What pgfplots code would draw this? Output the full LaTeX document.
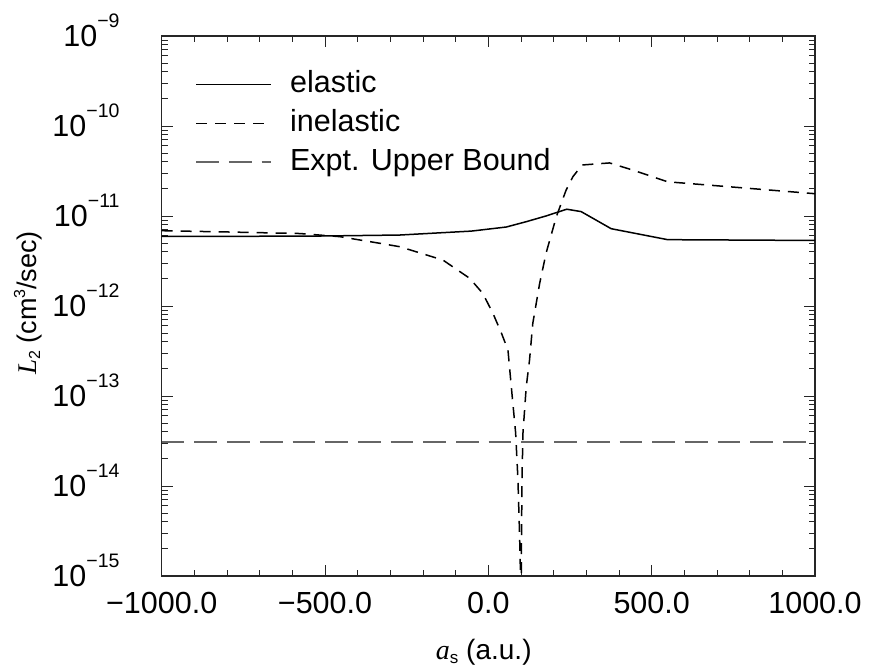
\documentclass[border=0pt]{standalone}
\usepackage{pgfplots}
\pgfplotsset{compat=1.18}
\usepackage{fontspec}
\setmainfont{Liberation Sans}
\newfontfamily\serif{Liberation Serif}
\newcommand{\tl}[1]{10\smash{\raisebox{19pt}{\fontsize{19.5}{20}\selectfont −#1}}}
\begin{document}
\begin{tikzpicture}
\begin{axis}[
  at={(0,0)}, anchor=south west,
  scale only axis, width=653.3pt, height=540pt,
  ymode=log, xmin=-1000, xmax=1000, ymin=1e-15, ymax=1e-9,
  xtick={-1000,-500,0,500,1000},
  xticklabels={−1000.0,−500.0,0.0,500.0,1000.0},
  minor x tick num=4,
  ytick={1e-15,1e-14,1e-13,1e-12,1e-11,1e-10,1e-9},
  yticklabels={\tl{15},\tl{14},\tl{13},\tl{12},\tl{11},\tl{10},\tl{9}},
  tick align=inside,
  major tick length=11pt, minor tick length=6pt,
  every tick/.style={black!85, line width=1pt},
  axis line style={black!85, line width=1.4pt},
  tick label style={font=\fontsize{30.5}{36}\selectfont, inner sep=0pt},
  xticklabel style={yshift=-16pt},
  yticklabel style={xshift=-42pt},
  xlabel={{\serif\itshape a}\raisebox{-4pt}{\fontsize{17}{18}\selectfont s} (a.u.)},
  ylabel={{\serif\itshape L}\raisebox{-4pt}{\fontsize{16}{18}\selectfont 2} (cm\raisebox{11pt}{\fontsize{16}{18}\selectfont 3}/sec)},
  every axis x label/.style={at={(axis description cs:0.493,-0.1537)}, anchor=base, font=\fontsize{28}{32}\selectfont},
  every axis y label/.style={at={(axis description cs:-0.1924,0.5056)}, anchor=base, rotate=90, font=\fontsize{27}{32}\selectfont},
  legend style={draw=none, fill=none, at={(axis description cs:0,1)}, anchor=north west,
    xshift=33.3pt, yshift=-34.2pt, inner sep=0pt, row sep=11pt,
    font=\fontsize{30.5}{36}\selectfont,
    nodes={inner sep=0pt, text height=22pt, text depth=6pt},
    /tikz/every odd column/.append style={column sep=18pt}},
  legend cell align=left,
  legend image code/.code={\draw[#1] (0pt,0pt) -- (75pt,0pt);},
]
\addplot[black, line width=1.5pt] coordinates {
(-1000,5.95e-12) (-750,5.95e-12) (-500,6.0e-12) (-271,6.15e-12) (-52,6.8e-12)
(55,7.55e-12) (116,8.65e-12) (176,1.0e-11) (240,1.19e-11) (284,1.12e-11)
(376,7.23e-12) (549,5.46e-12) (1000,5.35e-12)
};
\addlegendentry{elastic}
\addplot[black, line width=1.5pt, dash pattern=on 11pt off 8pt] coordinates {
(-1000,6.87e-12) (-800,6.65e-12) (-577,6.39e-12) (-455,5.9e-12) (-394,5.42e-12)
(-330,4.96e-12) (-271,4.56e-12) (-139,3.24e-12) (-57,2.03e-12) (-17,1.38e-12) (14,8.3e-13)
(40,5.0e-13) (60,3.25e-13) (70,1.3e-13) (83.5,3.9e-14) (90.5,1.2e-14)
(95.7,2.8e-15) (98,1.2e-15) (99,1e-17) (101,1.5e-15) (103,1.2e-14)
(106,3.9e-14) (116,1.27e-13) (126,2.5e-13) (136,6.4e-13) (157,1.78e-12)
(177,3.9e-12) (208,9.8e-12) (238,1.94e-11) (259,2.74e-11) (287,3.69e-11)
(371,3.89e-11) (442,3.24e-11) (549,2.4e-11) (1000,1.77e-11)
};
\addlegendentry{inelastic}
\addplot[black!60, line width=1.9pt, dash pattern=on 22.7pt off 10pt] coordinates {
(-1000,3.05e-14) (1000,3.05e-14)
};
\addlegendentry{Expt. Upper Bound}
\end{axis}
\pgfresetboundingbox
\useasboundingbox (-161.7pt,-91pt) rectangle (707.3pt,576pt);
\end{tikzpicture}
\end{document}
